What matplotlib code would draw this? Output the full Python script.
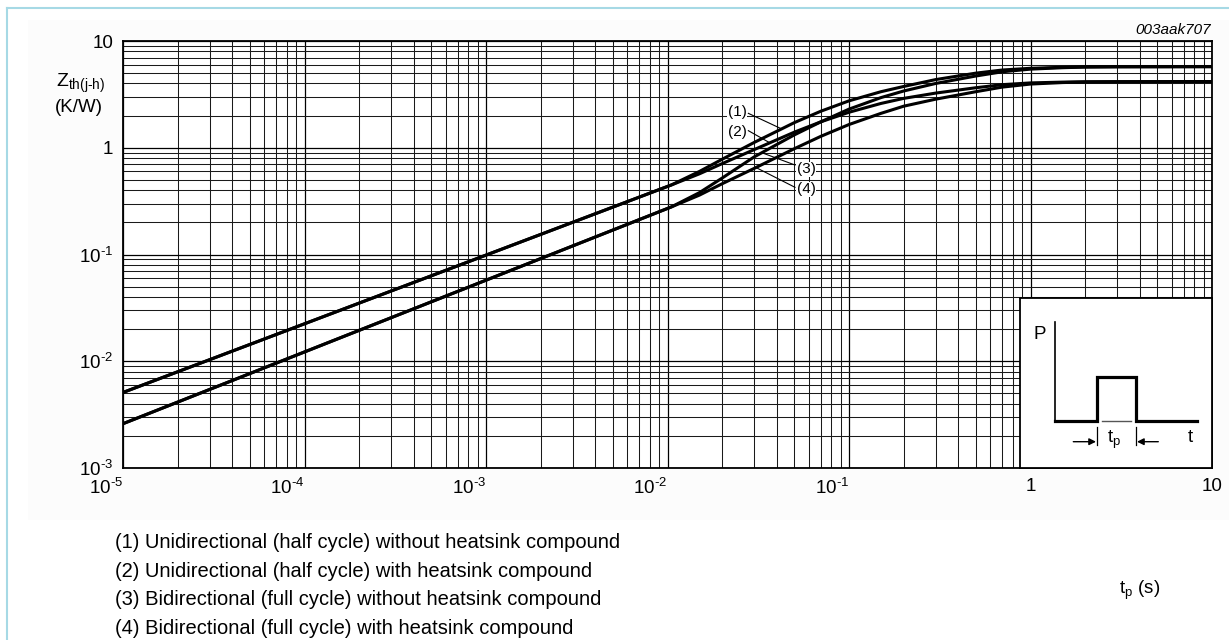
import numpy as np
import matplotlib
matplotlib.use("Agg")
import matplotlib.pyplot as plt
from matplotlib.lines import Line2D
from matplotlib.patches import Rectangle
from matplotlib.ticker import LogLocator, NullFormatter, FixedLocator

plt.rcParams['font.family'] = ['Liberation Sans', 'DejaVu Sans']
plt.rcParams['mathtext.fontset'] = 'custom'
plt.rcParams['mathtext.rm'] = 'Liberation Sans'
plt.rcParams['mathtext.it'] = 'Liberation Sans:italic'
plt.rcParams['mathtext.default'] = 'regular'

# Pulse duration t_p (s)
t_p = [1e-5, 0.0105, 0.015, 0.02, 0.03, 0.05, 0.07, 0.1, 0.15, 0.2, 0.3,
       0.5, 0.7, 1.0, 1.5, 2.0, 3.0, 10.0]

# Transient thermal impedance Zth(j-h) (K/W)
zth_1 = [0.0051, 0.448, 0.60, 0.78, 1.12, 1.72, 2.20, 2.75, 3.35, 3.75, 4.35,
         5.00, 5.35, 5.55, 5.67, 5.72, 5.74, 5.75]
zth_2 = [0.0051, 0.448, 0.57, 0.71, 0.96, 1.40, 1.75, 2.15, 2.60, 2.90, 3.25,
         3.65, 3.90, 4.05, 4.12, 4.15, 4.16, 4.17]
zth_3 = [0.0026, 0.279, 0.38, 0.52, 0.82, 1.32, 1.75, 2.30, 2.95, 3.40, 4.00,
         4.70, 5.15, 5.45, 5.62, 5.70, 5.73, 5.75]
zth_4 = [0.0026, 0.279, 0.36, 0.46, 0.64, 0.98, 1.28, 1.65, 2.10, 2.45, 2.85,
         3.35, 3.70, 3.95, 4.08, 4.13, 4.15, 4.17]

curve_tags = ['(1)', '(2)', '(3)', '(4)']
legend_lines = [
    '(1) Unidirectional (half cycle) without heatsink compound',
    '(2) Unidirectional (half cycle) with heatsink compound',
    '(3) Bidirectional (full cycle) without heatsink compound',
    '(4) Bidirectional (full cycle) with heatsink compound',
]

x_ticks = [1e-5, 1e-4, 1e-3, 1e-2, 1e-1, 1, 10]
x_ticklabels = [r'$10^{\text{-}5}$', r'$10^{\text{-}4}$', r'$10^{\text{-}3}$',
                r'$10^{\text{-}2}$', r'$10^{\text{-}1}$', '1', '10']
y_ticks = [1e-3, 1e-2, 1e-1, 1, 10]
y_ticklabels = [r'$10^{\text{-}3}$', r'$10^{\text{-}2}$', r'$10^{\text{-}1}$', '1', '10']

W, H = 1229, 640
fig = plt.figure(figsize=(W / 100, H / 100), dpi=100, facecolor='white')


def fx(px):
    return px / W


def fy(py):
    return 1 - py / H


# page frame
fig.patches.append(Rectangle((fx(28), fy(520)), fx(W - 28), fy(20) - fy(520),
                             transform=fig.transFigure, facecolor='#fcfcfc',
                             edgecolor='none', zorder=-5))
fig.add_artist(Line2D([fx(7), 1], [fy(8), fy(8)], color='#a6d9e5', lw=1.5,
                      transform=fig.transFigure))
fig.add_artist(Line2D([fx(7), fx(7)], [fy(8), 0], color='#a6d9e5', lw=1.5,
                      transform=fig.transFigure))

ax = fig.add_axes([fx(123), fy(468), fx(1212) - fx(123), fy(41) - fy(468)])
ax.set_facecolor('white')
ax.set_xscale('log')
ax.set_yscale('log')
ax.set_xlim(1e-5, 10)
ax.set_ylim(1e-3, 10)

ax.xaxis.set_major_locator(FixedLocator(x_ticks))
ax.yaxis.set_major_locator(FixedLocator(y_ticks))
ax.xaxis.set_minor_locator(LogLocator(base=10, subs=np.arange(2, 10), numticks=100))
ax.yaxis.set_minor_locator(LogLocator(base=10, subs=np.arange(2, 10), numticks=100))
ax.xaxis.set_minor_formatter(NullFormatter())
ax.yaxis.set_minor_formatter(NullFormatter())
ax.set_xticklabels(x_ticklabels)
ax.set_yticklabels(y_ticklabels)
ax.tick_params(which='both', length=0)
ax.tick_params(axis='x', labelsize=13.5, pad=7)
ax.tick_params(axis='y', labelsize=13.5, pad=7)
for lab, val in zip(ax.get_xticklabels(), x_ticks):
    lab.set_ha('right' if val < 1 else 'center')

ax.grid(True, which='major', color='black', lw=0.9)
ax.grid(True, which='minor', color='#1a1a1a', lw=0.75)
ax.set_axisbelow(True)
for sp in ax.spines.values():
    sp.set_linewidth(1.3)
    sp.set_color('black')

for z in (zth_1, zth_2, zth_3, zth_4):
    ax.plot(t_p, z, color='black', lw=2.2, solid_capstyle='butt', zorder=3)

# curve tags with leader lines
tag_pos = [(0.0242, 2.15), (0.0242, 1.41), (0.058, 0.628), (0.058, 0.408)]
leader_from = [(0.0279, 2.10), (0.0279, 1.445), (0.0504, 0.689), (0.0504, 0.426)]
leader_to = [(0.0426, 1.50), (0.0367, 1.11), (0.033, 0.90), (0.0306, 0.655)]
for tag, p, a, b in zip(curve_tags, tag_pos, leader_from, leader_to):
    ax.text(p[0], p[1], tag, fontsize=11, ha='center', va='center', zorder=5,
            bbox=dict(facecolor='white', edgecolor='none', pad=0.3))
    ax.plot([a[0], b[0]], [a[1], b[1]], color='black', lw=0.8, zorder=4)

# axis titles and figure code
fig.text(fx(80), fy(83), r'$\mathregular{Z_{\text{th(j-h)}}}$', fontsize=14, ha='center', va='center')
fig.text(fx(79), fy(108), '(K/W)', fontsize=13.5, ha='center', va='center')
fig.text(fx(1140), fy(590), r'$\mathregular{t_p}$ (s)', fontsize=13.5, ha='center', va='center')
fig.text(fx(1211), fy(30), '003aak707', fontsize=11, style='italic', ha='right', va='center')

for i, line in enumerate(legend_lines):
    fig.text(fx(115), fy(543 + 28.4 * i), line, fontsize=14.5, ha='left', va='center')

# pulse sketch
ins = fig.add_axes([fx(1020), fy(467.7), fx(1212) - fx(1020), fy(297.7) - fy(467.7)])
ins.set_xlim(1020, 1212)
ins.set_ylim(467.7, 297.7)
ins.set_xticks([])
ins.set_yticks([])
ins.set_facecolor('white')
for sp in ins.spines.values():
    sp.set_linewidth(1.3)
ins.plot([1055, 1055], [321.7, 421.5], color='black', lw=1.2)
ins.plot([1055, 1097.3, 1097.3, 1135.7, 1135.7, 1197.3],
         [421, 421, 376.7, 376.7, 421, 421], color='black', lw=2.3,
         solid_joinstyle='miter')
ins.plot([1101.7, 1130.7], [420.7, 420.7], color='#555555', lw=1.0)
for xv in (1097.3, 1135.7):
    ins.plot([xv, xv], [427, 445], color='black', lw=0.9)
ins.annotate('', xy=(1096, 441.7), xytext=(1073.3, 441.7),
             arrowprops=dict(arrowstyle='-|>', color='black', lw=1.0,
                             mutation_scale=10, shrinkA=0, shrinkB=0))
ins.annotate('', xy=(1137, 441.7), xytext=(1158.3, 441.7),
             arrowprops=dict(arrowstyle='-|>', color='black', lw=1.0,
                             mutation_scale=10, shrinkA=0, shrinkB=0))
ins.text(1040, 335, 'P', fontsize=13.5, ha='center', va='center')
ins.text(1114, 440, r'$\mathregular{t_p}$', fontsize=13.5, ha='center', va='center')
ins.text(1190, 437, 't', fontsize=13.5, ha='center', va='center')

fig.savefig('out.png', dpi=100, facecolor='white')
